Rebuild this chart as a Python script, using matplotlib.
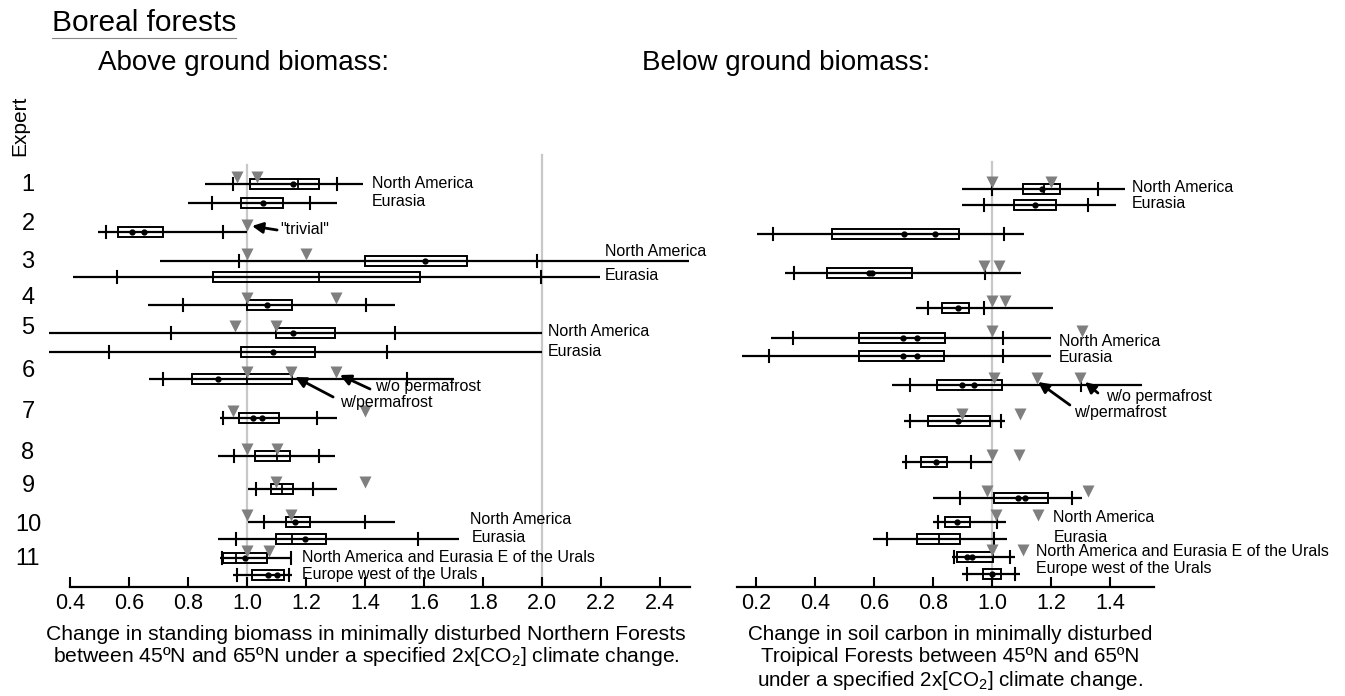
import numpy as np
import matplotlib
matplotlib.use("Agg")
import matplotlib.pyplot as plt
import matplotlib.transforms as mtransforms
from matplotlib.patches import Rectangle
from matplotlib.lines import Line2D

plt.rcParams['font.family'] = ['Liberation Sans', 'DejaVu Sans']
plt.rcParams['mathtext.fontset'] = 'custom'
plt.rcParams['mathtext.rm'] = 'Liberation Sans'
plt.rcParams['mathtext.default'] = 'regular'

#%% data (values = ratio of change)
experts = ['1', '2', '3', '4', '5', '6', '7', '8', '9', '10', '11']

# above ground biomass, one entry per drawn row
ab_lo   = [0.858, 0.80, 0.495, 0.705, 0.41, 0.665, 0.33, 0.33, 0.668, 0.908, 0.903, 1.003, 1.005, 0.90, 0.908, 0.953]
ab_p05  = [0.953, 0.882, 0.522, 0.973, 0.558, 0.784, 0.742, 0.533, 0.716, 0.918, 0.956, 1.03, 1.058, 0.962, 0.915, 0.967]
ab_q1   = [1.01, 0.979, 0.563, 1.40, 0.886, 1.0, 1.098, 0.979, 0.815, 0.973, 1.027, 1.083, 1.132, 1.097, 0.918, 1.017]
ab_q3   = [1.244, 1.123, 0.716, 1.746, 1.586, 1.153, 1.298, 1.23, 1.153, 1.108, 1.146, 1.156, 1.214, 1.268, 1.067, 1.125]
ab_p95  = [1.305, 1.214, 0.918, 1.983, 1.996, 1.402, 1.50, 1.474, 1.542, 1.236, 1.244, 1.225, 1.40, 1.58, 1.148, 1.143]
ab_hi   = [1.393, 1.305, 1.0, 2.498, 2.197, 1.50, 2.0, 2.0, 1.70, 1.305, 1.298, 1.305, 1.50, 1.72, 1.151, 1.153]
ab_med  = [1.173, np.nan, np.nan, np.nan, 1.245, np.nan, np.nan, np.nan, 1.0, np.nan, 1.103, 1.117, np.nan, 1.153, 0.962, np.nan]
ab_dots = [[1.156], [1.055], [0.61, 0.651], [1.603], [], [1.067], [1.157], [1.087], [0.903],
           [1.02, 1.052], [], [], [1.163], [1.197], [0.993], [1.071, 1.10]]
ab_tri  = [[0.965, 1.033], [], [1.0], [1.0, 1.2], [], [1.0, 1.3], [0.959, 1.098], [], [1.0, 1.148, 1.302],
           [0.951, 1.40], [1.0, 1.10], [1.098, 1.40], [1.0, 1.148], [], [1.0, 1.075], []]

# below ground biomass (soil carbon)
bg_lo   = [0.898, 0.898, 0.203, 0.298, 0.742, 0.25, 0.153, 0.661, 0.702, 0.695, 0.80, 0.80, 0.597, 0.864, 0.898]
bg_p05  = [1.0, 0.973, 0.258, 0.329, 0.783, 0.325, 0.244, 0.722, 0.722, 0.708, 0.891, 0.817, 0.644, 0.871, 0.915]
bg_q1   = [1.105, 1.075, 0.458, 0.44, 0.83, 0.549, 0.549, 0.814, 0.783, 0.759, 1.008, 0.84, 0.746, 0.881, 0.969]
bg_q3   = [1.23, 1.217, 0.888, 0.728, 0.922, 0.84, 0.837, 1.034, 0.993, 0.847, 1.19, 0.925, 0.891, 1.003, 1.03]
bg_p95  = [1.36, 1.325, 1.04, 0.976, 0.973, 1.037, 1.037, 1.30, 1.03, 0.929, 1.27, 1.016, 1.008, 1.061, 1.078]
bg_hi   = [1.45, 1.42, 1.108, 1.098, 1.207, 1.20, 1.20, 1.508, 1.044, 1.0, 1.305, 1.048, 1.051, 1.078, 1.095]
bg_med  = [1.176, np.nan, np.nan, np.nan, np.nan, np.nan, np.nan, np.nan, np.nan, np.nan, np.nan, np.nan, 0.82, np.nan, np.nan]
bg_dots = [[1.17], [1.146], [0.701, 0.806], [0.583, 0.593], [0.885], [0.698, 0.745], [0.698, 0.745],
           [0.898, 0.939], [0.885], [0.81], [1.088, 1.112], [0.881], [], [0.915, 0.932], [1.0]]
bg_tri  = [[1.0, 1.20], [], [], [0.973, 1.024], [1.0, 1.044], [1.0, 1.305], [], [1.008, 1.152, 1.298],
           [0.898, 1.095], [1.0, 1.092], [0.983, 1.327], [1.013, 1.157], [], [1.0, 1.105], []]

#%% layout (row positions, in pixel rows from the top)
ab_y = [184, 203, 232, 261, 277, 305, 333, 352, 379, 418, 456, 489, 522, 539, 558, 575]
bg_y = [189, 205, 234, 273, 308, 338, 356, 385, 421, 462, 498, 522, 539, 557, 574]
expert_y = [185, 224, 262, 298, 328, 371, 412, 453, 486, 525, 559]

W, H = 1345, 696
fig = plt.figure(figsize=(W / 100, H / 100), dpi=100)

def px_axes(x0, x1, y_top, y_bot):
    return fig.add_axes([x0 / W, 1 - y_bot / H, (x1 - x0) / W, (y_bot - y_top) / H])

axL = px_axes(25.75, 704.25, 140, 587)
axR = px_axes(697, 1169, 140, 587)
axL.set_xlim(0.25, 2.55)
axR.set_xlim(0.0, 1.6)

def draw_rows(ax, ys, lo, p05, q1, q3, p95, hi, med, dots, tri):
    for i, y in enumerate(ys):
        ax.plot([lo[i], hi[i]], [y, y], color='black', lw=1.6, solid_capstyle='butt', zorder=3)
        for t in (p05[i], p95[i]):
            ax.plot([t, t], [y - 6, y + 6], color='black', lw=1.5, zorder=3)
        ax.add_patch(Rectangle((q1[i], y - 5), q3[i] - q1[i], 10, fill=False,
                               edgecolor='black', lw=1.4, zorder=4))
        if not np.isnan(med[i]):
            ax.plot([med[i], med[i]], [y - 5, y + 5], color='black', lw=1.3, zorder=4)
        if dots[i]:
            ax.plot(dots[i], [y] * len(dots[i]), 'o', color='black', ms=3.5, zorder=5)
        if tri[i]:
            ax.plot(tri[i], [y - 7] * len(tri[i]), 'v', color='#7f7f7f', ms=9, mec='none', zorder=6)

for ax in (axL, axR):
    ax.set_ylim(587, 140)
    ax.set_facecolor('none')
    for s in ('left', 'top', 'right'):
        ax.spines[s].set_visible(False)
    ax.spines['bottom'].set_linewidth(1.6)
    ax.set_yticks([])
    ax.tick_params(axis='x', direction='in', length=7, width=1.5, labelsize=15.5, pad=4)

axL.spines['bottom'].set_bounds(0.4, 2.5)
axL.set_xticks(np.arange(0.4, 2.41, 0.2))
axL.set_xticklabels([f'{v:.1f}' for v in np.arange(0.4, 2.41, 0.2)])
axR.spines['bottom'].set_bounds(0.136, 1.55)
axR.set_xticks(np.arange(0.2, 1.41, 0.2))
axR.set_xticklabels([f'{v:.1f}' for v in np.arange(0.2, 1.41, 0.2)])

# reference lines
axL.plot([1.0, 1.0], [165, 587], color='#c8c8c8', lw=1.6, zorder=1)
axL.plot([2.0, 2.0], [155, 587], color='#c8c8c8', lw=1.6, zorder=1)
axR.plot([1.0, 1.0], [162, 587], color='#c8c8c8', lw=1.6, zorder=1)

draw_rows(axL, ab_y, ab_lo, ab_p05, ab_q1, ab_q3, ab_p95, ab_hi, ab_med, ab_dots, ab_tri)
draw_rows(axR, bg_y, bg_lo, bg_p05, bg_q1, bg_q3, bg_p95, bg_hi, bg_med, bg_dots, bg_tri)

lab = dict(fontsize=11.5, va='center', ha='left', clip_on=False, zorder=7)
# left panel labels
axL.text(1.424, 184, 'North America', **lab)
axL.text(1.424, 202, 'Eurasia', **lab)
axL.text(1.112, 230, '"trivial"', **lab)
axL.text(2.214, 251, 'North America', **lab)
axL.text(2.214, 276, 'Eurasia', **lab)
axL.text(2.02, 332, 'North America', **lab)
axL.text(2.02, 351, 'Eurasia', **lab)
axL.text(1.434, 387, 'w/o permafrost', **lab)
axL.text(1.315, 402, 'w/permafrost', **lab)
axL.text(1.756, 520, 'North America', **lab)
axL.text(1.763, 538, 'Eurasia', **lab)
axL.text(1.186, 557, 'North America and Eurasia E of the Urals', **lab)
axL.text(1.186, 574, 'Europe west of the Urals', **lab)
# right panel labels
axR.text(1.475, 187, 'North America', **lab)
axR.text(1.475, 203, 'Eurasia', **lab)
axR.text(1.227, 341, 'North America', **lab)
axR.text(1.227, 357, 'Eurasia', **lab)
axR.text(1.386, 396, 'w/o permafrost', **lab)
axR.text(1.278, 413, 'w/permafrost', **lab)
axR.text(1.207, 518, 'North America', **lab)
axR.text(1.21, 537, 'Eurasia', **lab)
axR.text(1.149, 552, 'North America and Eurasia E of the Urals', **lab)
axR.text(1.149, 569, 'Europe west of the Urals', **lab)

arrow = dict(arrowstyle='-|>', color='black', lw=2, mutation_scale=16, shrinkA=0, shrinkB=0)
axL.annotate('', xy=(1.017, 226), xytext=(1.102, 230), arrowprops=arrow)
axL.annotate('', xy=(1.315, 375), xytext=(1.417, 389), arrowprops=arrow)
axL.annotate('', xy=(1.163, 377), xytext=(1.292, 397), arrowprops=arrow)
axR.annotate('', xy=(1.156, 382), xytext=(1.264, 405), arrowprops=arrow)
axR.annotate('', xy=(1.315, 382), xytext=(1.359, 393), arrowprops=arrow)

# expert numbers on the left
trans = mtransforms.blended_transform_factory(fig.transFigure, axL.transData)
for e, y in zip(experts, expert_y):
    fig.text(28 / W, y, e, transform=trans, fontsize=17, ha='center', va='center')
fig.text(20 / W, 1 - 126 / H, 'Expert', rotation=90, fontsize=15, ha='center', va='center')

# titles
t = fig.text(52 / W, 1 - 23 / H, 'Boreal forests', fontsize=21.5, ha='left', va='center')
fig.text(98 / W, 1 - 63 / H, 'Above ground biomass:', fontsize=20, ha='left', va='center')
fig.text(642 / W, 1 - 63 / H, 'Below ground biomass:', fontsize=20, ha='left', va='center')
fig.canvas.draw()
bb = t.get_window_extent().transformed(fig.transFigure.inverted())
fig.add_artist(Line2D([bb.x0, bb.x1], [bb.y0 - 0.002, bb.y0 - 0.002], color='#888888', lw=0.8))

# captions
fig.text(366 / W, 1 - 635 / H, 'Change in standing biomass in minimally disturbed Northern Forests',
         fontsize=15.2, ha='center', va='center')
fig.text(366 / W, 1 - 657 / H, 'between 45ºN and 65ºN under a specified 2x[CO$_2$] climate change.',
         fontsize=15.2, ha='center', va='center')
cap = dict(fontsize=14.9, ha='center', va='center')
fig.text(950 / W, 1 - 635 / H, 'Change in soil carbon in minimally disturbed', **cap)
fig.text(950 / W, 1 - 657 / H, 'Troipical Forests between 45ºN and 65ºN', **cap)
fig.text(950 / W, 1 - 680 / H, 'under a specified 2x[CO$_2$] climate change.', **cap)

fig.savefig('out.png', dpi=100)
